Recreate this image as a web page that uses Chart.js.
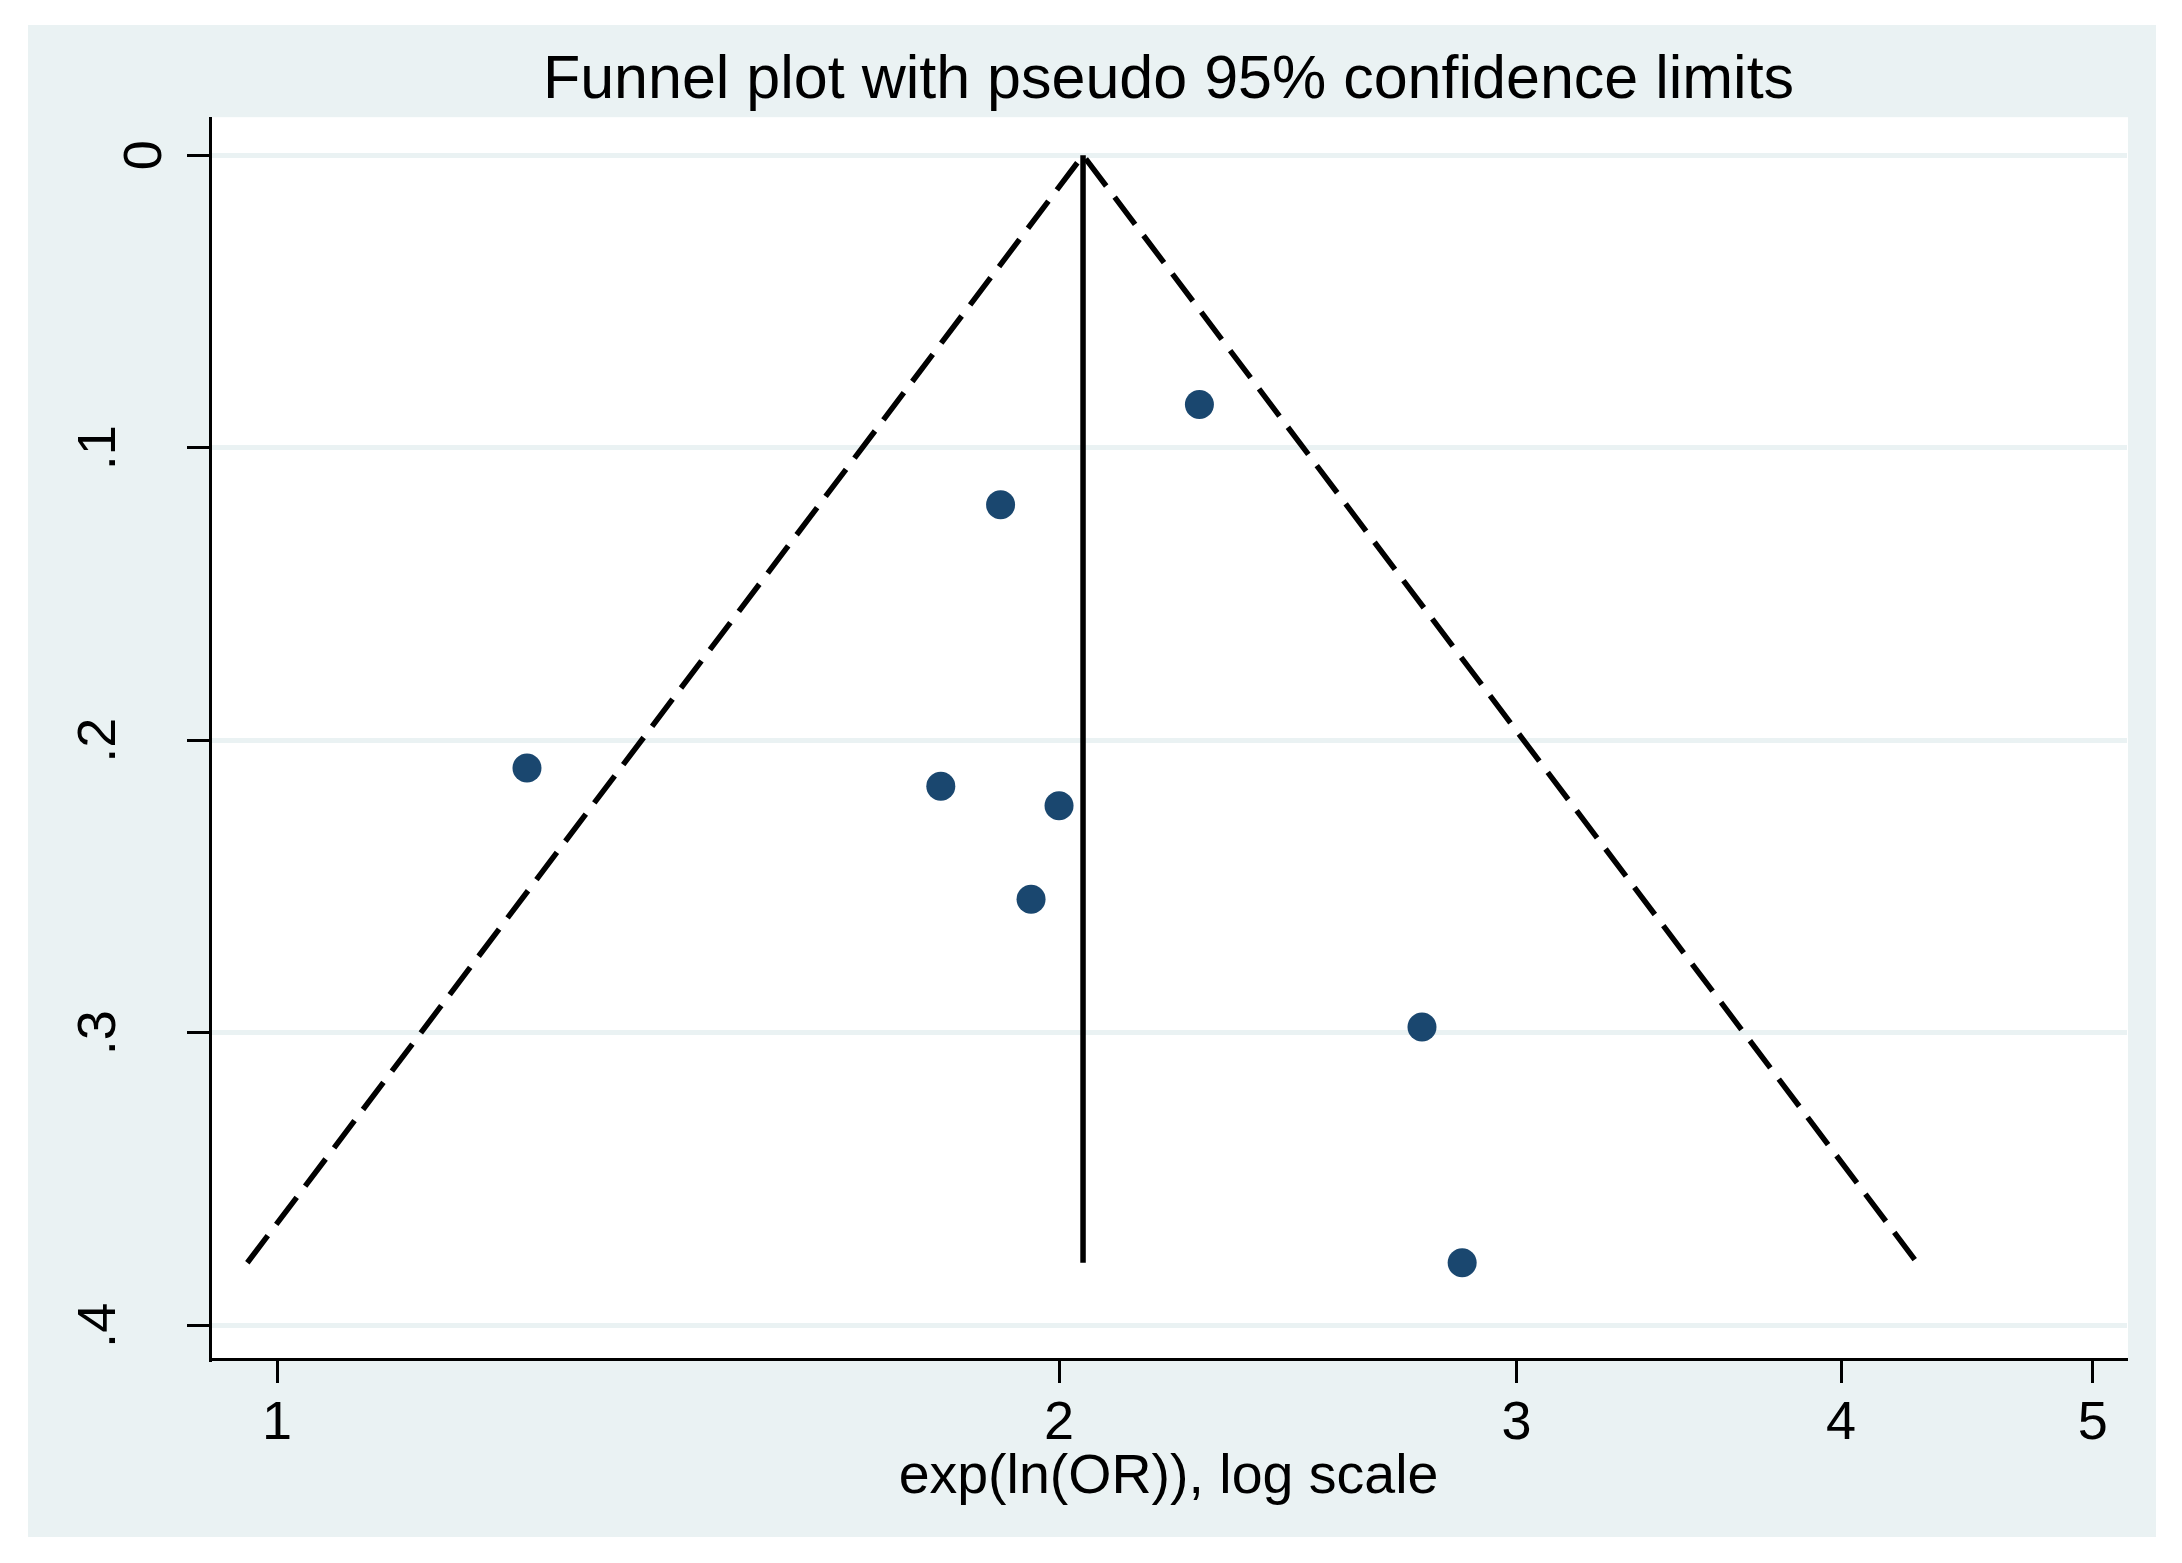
<!DOCTYPE html>
<html lang="en">
<head>
<meta charset="UTF-8">
<title>Funnel plot with pseudo 95% confidence limits</title>
<script src="https://cdn.jsdelivr.net/npm/chart.js"></script>
<style>
  html, body { margin: 0; padding: 0; background: #ffffff; }
  #frame {
    position: absolute;
    left: 28px;
    top: 25px;
    width: 2128px;
    height: 1512px;
    background: #eaf2f3;
  }
</style>
</head>
<body>
<div id="frame"><canvas id="funnel"></canvas></div>
<script>
  // Study estimates: odds ratio and standard error of ln(OR)
  const studyOR = [1.248, 1.801, 1.899, 2.000, 1.951, 2.265, 2.759, 2.859];
  const studySE = [0.2095, 0.2157, 0.1195, 0.2224, 0.2543, 0.0852, 0.298, 0.3786];

  // Pooled estimate and the pseudo 95% limits at the largest SE
  const pooledOR = 2.043;
  const maxSE = 0.3786;
  const limitLow = 0.974;
  const limitHigh = 4.279;

  // Axis ticks
  const xTickValues = [1, 2, 3, 4, 5];
  const yTickValues = [0, 0.1, 0.2, 0.3, 0.4];
  const yTickLabels = ['0', '.1', '.2', '.3', '.4'];

  Chart.defaults.font.family = "'Liberation Sans', Arial, Helvetica, sans-serif";
  Chart.defaults.color = '#000';

  // white plot region on the bluish-gray graph region
  const plotBackground = {
    id: 'plotBackground',
    beforeDraw(chart) {
      const { ctx, chartArea: a } = chart;
      ctx.save();
      ctx.fillStyle = '#ffffff';
      ctx.fillRect(a.left, a.top - 1, a.right - a.left + 1, a.bottom - a.top + 1);
      ctx.restore();
    }
  };

  new Chart(document.getElementById('funnel'), {
    type: 'scatter',
    data: {
      datasets: [
        {
          label: 'Studies',
          data: studyOR.map((x, i) => ({ x: x, y: studySE[i] })),
          pointRadius: 14.5,
          pointHoverRadius: 14.5,
          pointBackgroundColor: '#1a476f',
          pointBorderWidth: 0,
          order: 0
        },
        {
          label: 'Pseudo 95% limits',
          data: [{ x: limitLow, y: maxSE }, { x: pooledOR, y: 0 }, { x: limitHigh, y: maxSE }],
          showLine: true,
          borderColor: '#000',
          borderWidth: 5.5,
          borderDash: [34, 14],
          pointRadius: 0,
          fill: false,
          order: 1
        },
        {
          label: 'Pooled',
          data: [{ x: pooledOR, y: 0 }, { x: pooledOR, y: maxSE }],
          showLine: true,
          borderColor: '#000',
          borderWidth: 5.5,
          pointRadius: 0,
          fill: false,
          order: 1
        }
      ]
    },
    options: {
      responsive: true,
      maintainAspectRatio: false,
      animation: false,
      devicePixelRatio: 1,
      layout: { padding: { left: 0, right: 29, top: 0, bottom: 0 } },
      plugins: {
        legend: { display: false },
        tooltip: { enabled: false },
        title: {
          display: true,
          text: 'Funnel plot with pseudo 95% confidence limits',
          fullSize: false,
          color: '#000',
          font: { size: 61, weight: 'normal', lineHeight: 1.2 },
          padding: { top: 20, bottom: 0 }
        }
      },
      scales: {
        x: {
          type: 'logarithmic',
          position: 'bottom',
          min: 0.9423,
          max: 5.154,
          afterBuildTicks: s => { s.ticks = xTickValues.map(v => ({ value: v })); },
          afterFit: s => { s.height = 178; s.paddingLeft = 0; s.paddingRight = 0; },
          ticks: {
            autoSkip: false,
            minRotation: 0,
            maxRotation: 0,
            padding: 9,
            color: '#000',
            font: { size: 54 },
            callback: v => String(v)
          },
          grid: {
            drawOnChartArea: false,
            drawTicks: true,
            tickLength: 24,
            tickWidth: 3,
            tickColor: '#000'
          },
          border: { display: true, color: '#000', width: 3 },
          title: {
            display: true,
            text: 'exp(ln(OR)), log scale',
            color: '#000',
            font: { size: 55.5 },
            padding: { top: 0, bottom: 26 }
          }
        },
        y: {
          type: 'linear',
          position: 'left',
          reverse: true,
          min: -0.01265,
          max: 0.4115,
          afterBuildTicks: s => { s.ticks = yTickValues.map(v => ({ value: v })); },
          afterFit: s => { s.width = 182; s.paddingTop = 0; s.paddingBottom = 0; },
          ticks: {
            autoSkip: false,
            minRotation: 90,
            maxRotation: 90,
            crossAlign: 'center',
            padding: 64.5,
            color: '#000',
            // the "0" label sits further right than the others
            font: ctx => ({ size: 54, lineHeight: ctx.index === 0 ? 1.7 : 1.2 }),
            callback: (v, i) => (i === 0 ? ['', yTickLabels[i]] : yTickLabels[i])
          },
          grid: {
            color: '#eaf2f3',
            lineWidth: 5,
            drawTicks: true,
            tickLength: 23,
            tickWidth: 3,
            tickColor: '#000'
          },
          border: { display: true, color: '#000', width: 3 }
        }
      }
    },
    plugins: [plotBackground]
  });
</script>
</body>
</html>
